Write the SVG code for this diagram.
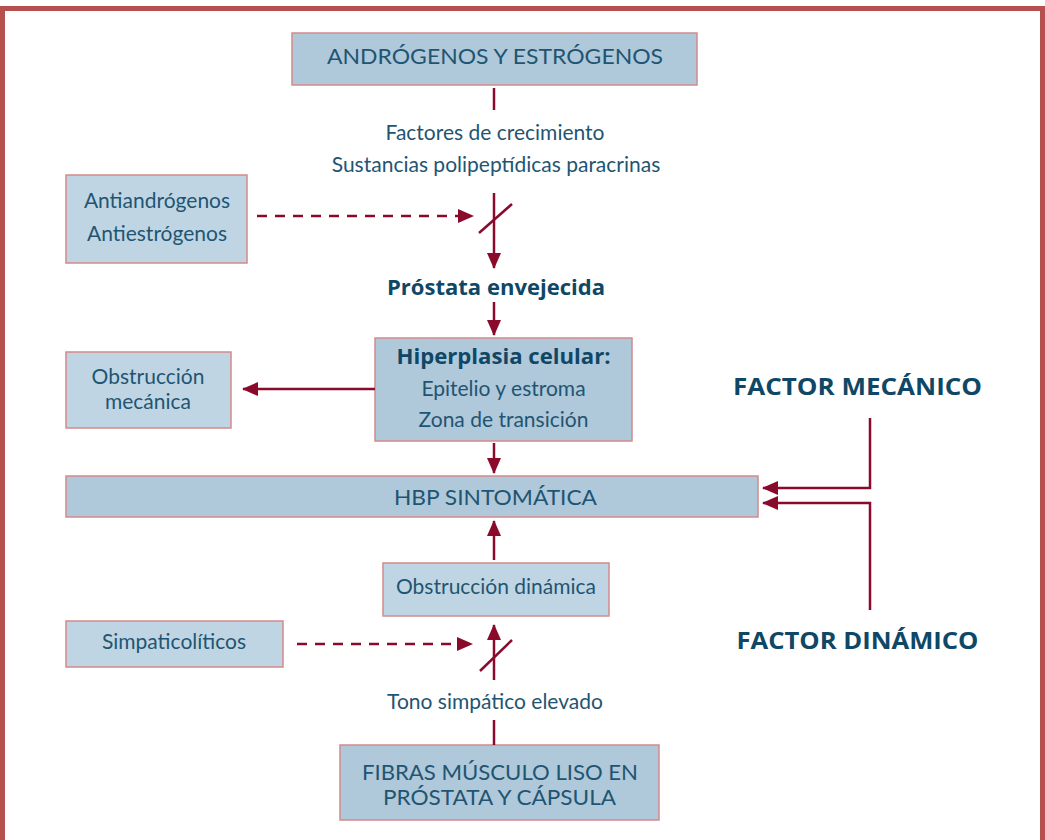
<svg xmlns="http://www.w3.org/2000/svg" width="1045" height="840" viewBox="0 0 1045 840">
<defs>
<style>
.bx{fill:#afc8da;stroke:#d48a8a;stroke-width:1.5}
.bl{fill:#c0d5e3;stroke:#d48a8a;stroke-width:1.5}
.t{font-family:Lato,"Open Sans",sans-serif;font-size:21px;fill:#1f5572;text-anchor:middle}
.b{font-family:"Open Sans",Lato,sans-serif;font-size:21px;font-weight:bold;fill:#0f4766;text-anchor:middle}
.f{font-family:"Open Sans",Lato,sans-serif;font-size:23px;font-weight:bold;fill:#0f4766;text-anchor:middle}
.ln{stroke:#8a0a2c;stroke-width:2.5;fill:none}
.dl{stroke:#8a0a2c;stroke-width:2.5;fill:none;stroke-dasharray:10 8}
</style>
<marker id="ah" markerUnits="userSpaceOnUse" markerWidth="16" markerHeight="14" refX="15" refY="7" orient="auto">
<path d="M0,0 L16,7 L0,14 Z" fill="#8a0a2c"/>
</marker>
</defs>
<rect x="0" y="0" width="1045" height="840" fill="#fff"/>
<rect x="2.5" y="8.5" width="1040" height="845" fill="none" stroke="#b5504f" stroke-width="5"/>

<g id="n-andro"><rect class="bx" x="292" y="33" width="405" height="52"/><text class="t" x="495" y="64" textLength="336" lengthAdjust="spacingAndGlyphs">ANDRÓGENOS Y ESTRÓGENOS</text></g>
<g id="n-factores"><text class="t" x="495" y="140">Factores de crecimiento</text><text class="t" x="496" y="172">Sustancias polipeptídicas paracrinas</text></g>
<g id="n-anti"><rect class="bl" x="66" y="175" width="181" height="88"/><text class="t" x="157" y="208">Antiandrógenos</text><text class="t" x="157" y="241">Antiestrógenos</text></g>
<g id="n-prostata"><text class="b" x="496" y="295" textLength="218" lengthAdjust="spacingAndGlyphs">Próstata envejecida</text></g>
<g id="n-hiper"><rect class="bx" x="375" y="338" width="257" height="103"/><text class="b" x="503.5" y="364" textLength="214" lengthAdjust="spacingAndGlyphs">Hiperplasia celular:</text><text class="t" x="503.5" y="396">Epitelio y estroma</text><text class="t" x="503.5" y="427">Zona de transición</text></g>
<g id="n-obsmec"><rect class="bl" x="66" y="352" width="165" height="76"/><text class="t" x="148" y="384">Obstrucción</text><text class="t" x="148" y="409">mecánica</text></g>
<g id="n-hbp"><rect class="bx" x="66" y="476" width="692" height="41"/><text class="t" x="495.5" y="505" textLength="203" lengthAdjust="spacingAndGlyphs">HBP SINTOMÁTICA</text></g>
<g id="n-obsdin"><rect class="bl" x="383" y="563" width="226" height="53"/><text class="t" x="496" y="594">Obstrucción dinámica</text></g>
<g id="n-simpa"><rect class="bl" x="66" y="621" width="217" height="46"/><text class="t" x="174" y="649">Simpaticolíticos</text></g>
<g id="n-tono"><text class="t" x="495" y="709">Tono simpático elevado</text></g>
<g id="n-fibras"><rect class="bx" x="340" y="745" width="319" height="75"/><text class="t" x="500" y="780" textLength="276" lengthAdjust="spacingAndGlyphs">FIBRAS MÚSCULO LISO EN</text><text class="t" x="499.5" y="805" textLength="233" lengthAdjust="spacingAndGlyphs">PRÓSTATA Y CÁPSULA</text></g>
<g id="n-fmec"><text class="f" x="857.5" y="395" textLength="249" lengthAdjust="spacingAndGlyphs">FACTOR MECÁNICO</text></g>
<g id="n-fdin"><text class="f" x="857.5" y="649" textLength="242" lengthAdjust="spacingAndGlyphs">FACTOR DINÁMICO</text></g>

<g id="connectors">
<line class="ln" x1="494" y1="88" x2="494" y2="110"/>
<line class="ln" x1="494" y1="193" x2="494" y2="268" marker-end="url(#ah)"/>
<line class="dl" x1="257" y1="216" x2="473" y2="216" marker-end="url(#ah)"/>
<line class="ln" x1="479" y1="233" x2="512" y2="204"/>
<line class="ln" x1="494" y1="302" x2="494" y2="335" marker-end="url(#ah)"/>
<line class="ln" x1="375" y1="389" x2="243" y2="389" marker-end="url(#ah)"/>
<line class="ln" x1="494" y1="443" x2="494" y2="473" marker-end="url(#ah)"/>
<line class="ln" x1="494" y1="560" x2="494" y2="521" marker-end="url(#ah)"/>
<line class="dl" x1="297" y1="644" x2="472" y2="644" marker-end="url(#ah)"/>
<line class="ln" x1="494" y1="680" x2="494" y2="625" marker-end="url(#ah)"/>
<line class="ln" x1="480" y1="671" x2="512" y2="640"/>
<line class="ln" x1="494" y1="720" x2="494" y2="745"/>
<polyline class="ln" points="870,418 870,488 763,488" marker-end="url(#ah)"/>
<polyline class="ln" points="870,610 870,503 763,503" marker-end="url(#ah)"/>
</g>
</svg>
